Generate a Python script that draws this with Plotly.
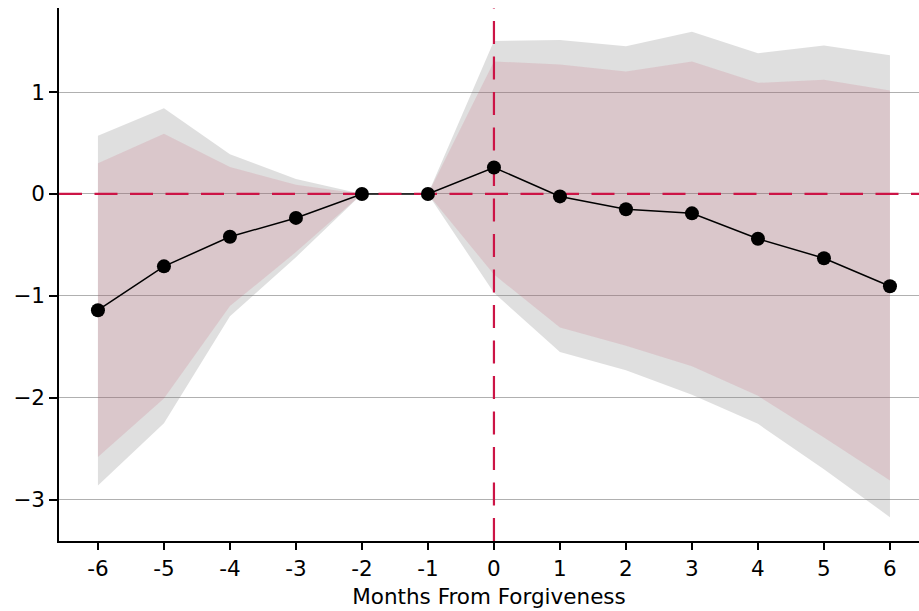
import plotly.graph_objects as go

# Event-study estimates: months relative to forgiveness
months = [-6, -5, -4, -3, -2, -1, 0, 1, 2, 3, 4, 5, 6]
x_tick_text = ["-6", "-5", "-4", "-3", "-2", "-1", "0", "1", "2", "3", "4", "5", "6"]

coef = [-1.14, -0.71, -0.42, -0.235, 0.0, 0.0, 0.26, -0.024, -0.15, -0.19, -0.44, -0.63, -0.905]

# Wide (99%) confidence band
ci_wide_hi = [0.57, 0.84, 0.39, 0.147, 0.0, 0.0, 1.50, 1.51, 1.45, 1.59, 1.38, 1.455, 1.36]
ci_wide_lo = [-2.86, -2.25, -1.20, -0.62, 0.0, 0.0, -0.97, -1.55, -1.73, -1.97, -2.255, -2.70, -3.17]

# Narrow (95%) confidence band
ci_narrow_hi = [0.30, 0.59, 0.265, 0.09, 0.0, 0.0, 1.30, 1.27, 1.20, 1.30, 1.09, 1.12, 1.015]
ci_narrow_lo = [-2.58, -2.007, -1.10, -0.57, 0.0, 0.0, -0.79, -1.31, -1.49, -1.69, -1.98, -2.39, -2.81]

y_tick_vals = [-3, -2, -1, 0, 1]
y_tick_text = ["\u22123", "\u22122", "\u22121", "0", "1"]

X_RANGE = [-6.59, 6.44]
Y_RANGE = [-3.404, 1.824]
EVENT_MONTH = 0
BASELINE = 0

RED = "#cc1446"
FONT = "DejaVu Sans"
FONT_SIZE = 21.5

fig = go.Figure()


def band(lo, hi, color):
    return go.Scatter(
        x=months + months[::-1],
        y=hi + lo[::-1],
        fill="toself",
        fillcolor=color,
        line=dict(width=0),
        mode="lines",
        hoverinfo="skip",
        showlegend=False,
    )


fig.add_trace(band(ci_wide_lo, ci_wide_hi, "rgba(128,128,128,0.25)"))
fig.add_trace(band(ci_narrow_lo, ci_narrow_hi, "rgba(190,30,65,0.12)"))

# Connecting line for the point estimates
fig.add_trace(go.Scatter(
    x=months, y=coef, mode="lines",
    line=dict(color="black", width=1.5),
    showlegend=False,
))

# Reference lines: zero effect and the forgiveness month
dash = "23px,12.5px"
fig.add_trace(go.Scatter(
    x=X_RANGE, y=[BASELINE, BASELINE], mode="lines",
    line=dict(color=RED, width=2.2, dash=dash),
    showlegend=False, hoverinfo="skip",
))
fig.add_trace(go.Scatter(
    x=[EVENT_MONTH, EVENT_MONTH], y=Y_RANGE, mode="lines",
    line=dict(color=RED, width=2.2, dash=dash),
    showlegend=False, hoverinfo="skip",
))

# Point estimates
fig.add_trace(go.Scatter(
    x=months, y=coef, mode="markers",
    marker=dict(color="black", size=14, line=dict(width=0)),
    showlegend=False,
))

fig.update_layout(
    width=919, height=611,
    margin=dict(l=59, r=0, t=8, b=70),
    paper_bgcolor="white", plot_bgcolor="white",
    font=dict(family=FONT, size=FONT_SIZE, color="black"),
)

fig.update_xaxes(
    range=X_RANGE,
    tickmode="array", tickvals=months, ticktext=x_tick_text,
    ticks="outside", ticklen=7, tickwidth=1.7, tickcolor="black",
    showline=True, linecolor="black", linewidth=1.7,
    showgrid=False, zeroline=False,
    tickfont=dict(family=FONT, size=FONT_SIZE),
    title=dict(text="Months From Forgiveness", font=dict(family=FONT, size=FONT_SIZE), standoff=9),
)

fig.update_yaxes(
    range=Y_RANGE,
    tickmode="array", tickvals=y_tick_vals, ticktext=y_tick_text,
    ticks="outside", ticklen=8, tickwidth=1.7, tickcolor="black",
    showline=True, linecolor="black", linewidth=1.7,
    showgrid=True, gridcolor="#b0b0b0", gridwidth=1.2,
    zeroline=False,
    tickfont=dict(family=FONT, size=FONT_SIZE),
)

fig.write_html("out.html")
